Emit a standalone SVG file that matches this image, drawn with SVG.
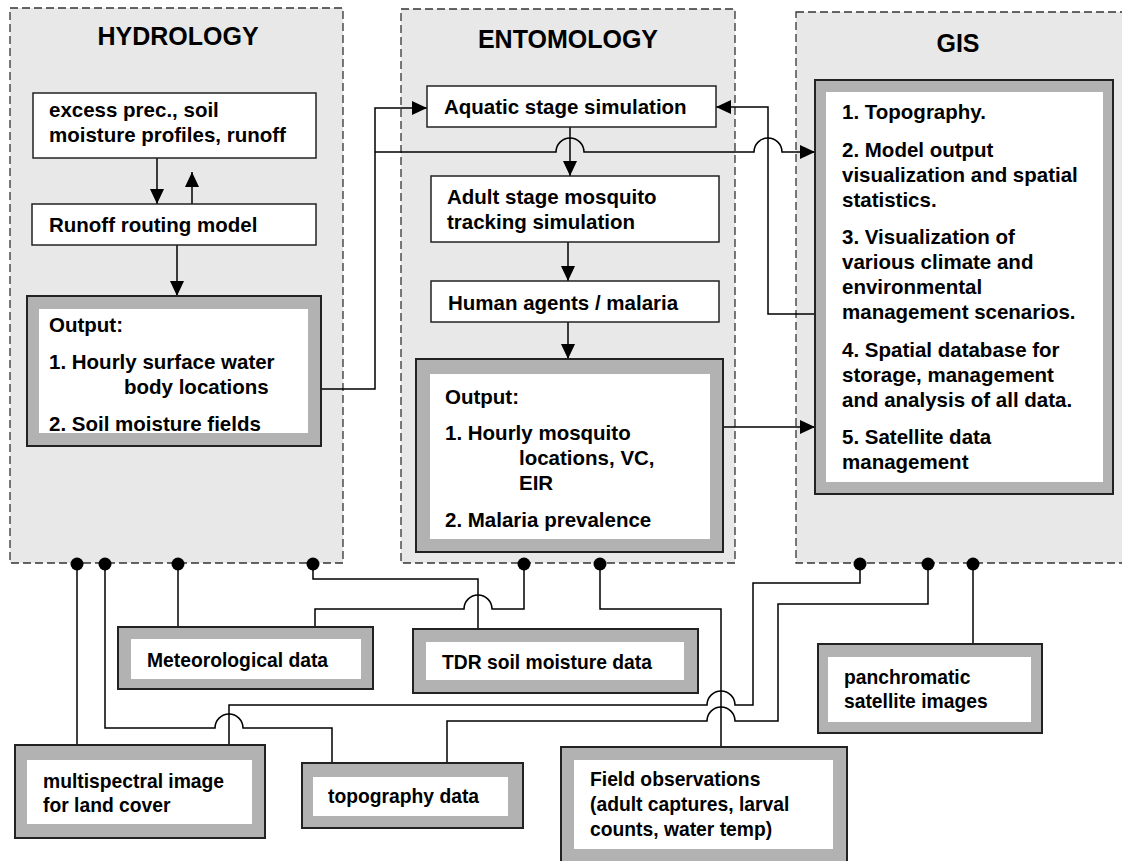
<svg xmlns="http://www.w3.org/2000/svg" width="1122" height="861" viewBox="0 0 1122 861">
<defs>
<marker id="arr" markerUnits="userSpaceOnUse" markerWidth="15" markerHeight="14" refX="15" refY="7" orient="auto">
<path d="M0,0 L15,7 L0,14 z" fill="#000"/>
</marker>
<style>
.panel{fill:#e8e8e8;stroke:#333;stroke-width:1.3;stroke-dasharray:8 4}
.box{fill:#fff;stroke:#222;stroke-width:1.5}
.frame{fill:#b2b2b2;stroke:#222;stroke-width:2}
.inner{fill:#fff}
.t{font-family:"Liberation Sans",Arial,sans-serif;font-weight:bold;font-size:20.5px;fill:#000}
.s{font-family:"Liberation Sans",Arial,sans-serif;font-weight:bold;font-size:19.3px;fill:#000}
.h{font-family:"Liberation Sans",Arial,sans-serif;font-weight:bold;font-size:25px;fill:#000;text-anchor:middle}
.c{fill:none;stroke:#000;stroke-width:1.5}
.dot{fill:#000}
</style>
</defs>
<rect width="1122" height="861" fill="#fff"/>

<g id="panel-hydrology">
<rect class="panel" x="10" y="8" width="333" height="555"/>
<text class="h" x="178" y="45">HYDROLOGY</text>
</g>
<g id="panel-entomology">
<rect class="panel" x="401" y="9" width="334" height="554"/>
<text class="h" x="568" y="48">ENTOMOLOGY</text>
</g>
<g id="panel-gis">
<rect class="panel" x="796" y="12" width="340" height="551"/>
<text class="h" x="958" y="52">GIS</text>
</g>

<g id="connectors">
<path class="c" d="M157,158 V204" marker-end="url(#arr)"/>
<path class="c" d="M192,204 V172" marker-end="url(#arr)"/>
<path class="c" d="M177,245 V296" marker-end="url(#arr)"/>
<path class="c" d="M321,389 H375 V108 H427" marker-end="url(#arr)"/>
<path class="c" d="M375,152 H556 A14,14 0 0 1 584,152 H754 A14,14 0 0 1 782,152 H815" marker-end="url(#arr)"/>
<path class="c" d="M570,127 V176" marker-end="url(#arr)"/>
<path class="c" d="M568,242 V281" marker-end="url(#arr)"/>
<path class="c" d="M568,322 V359" marker-end="url(#arr)"/>
<path class="c" d="M723,427 H815" marker-end="url(#arr)"/>
<path class="c" d="M815,314 H768 V107 H716" marker-end="url(#arr)"/>

<path class="c" d="M77,564 V745"/>
<path class="c" d="M105,564 V728 H215 A14,14 0 0 1 243,728 H332 V763"/>
<path class="c" d="M178,564 V627"/>
<path class="c" d="M313,564 V579 H478 V629"/>
<path class="c" d="M315,627 V609 H464 A14,14 0 0 1 492,609 H524 V564"/>
<path class="c" d="M600,564 V609 H721 V747"/>
<path class="c" d="M229,745 V705 H707 A14,14 0 0 1 735,705 H753 V583 H860 V564"/>
<path class="c" d="M447,763 V721 H707 A14,14 0 0 1 735,721 H778 V604 H928 V564"/>
<path class="c" d="M973,564 V644"/>

<circle class="dot" cx="77" cy="564" r="6.5"/>
<circle class="dot" cx="105" cy="564" r="6.5"/>
<circle class="dot" cx="178" cy="564" r="6.5"/>
<circle class="dot" cx="313" cy="564" r="6.5"/>
<circle class="dot" cx="524" cy="564" r="6.5"/>
<circle class="dot" cx="600" cy="564" r="6.5"/>
<circle class="dot" cx="860" cy="564" r="6.5"/>
<circle class="dot" cx="928" cy="564" r="6.5"/>
<circle class="dot" cx="973" cy="564" r="6.5"/>
</g>

<g id="excess">
<rect class="box" x="33" y="93" width="283" height="65"/>
<text class="t" x="49" y="117">excess prec., soil</text>
<text class="t" x="49" y="142">moisture profiles, runoff</text>
</g>
<g id="runoff">
<rect class="box" x="32" y="204" width="284" height="41"/>
<text class="t" x="49" y="232">Runoff routing model</text>
</g>
<g id="hydro-output">
<rect class="frame" x="27" y="296" width="294" height="150"/>
<rect class="inner" x="39" y="309" width="269" height="124"/>
<text class="t" x="49" y="332">Output:</text>
<text class="t" x="49" y="369">1. Hourly surface water</text>
<text class="t" x="124" y="394">body locations</text>
<text class="t" x="49" y="431">2. Soil moisture fields</text>
</g>

<g id="aquatic">
<rect class="box" x="427" y="86" width="289" height="41"/>
<text class="t" x="444" y="114">Aquatic stage simulation</text>
</g>
<g id="adult">
<rect class="box" x="431" y="176" width="288" height="66"/>
<text class="t" x="447" y="204">Adult stage mosquito</text>
<text class="t" x="447" y="229">tracking simulation</text>
</g>
<g id="human">
<rect class="box" x="431" y="281" width="288" height="41"/>
<text class="t" x="448" y="310">Human agents / malaria</text>
</g>
<g id="ento-output">
<rect class="frame" x="416" y="359" width="307" height="193"/>
<rect class="inner" x="430" y="374" width="280" height="165"/>
<text class="t" x="445" y="404">Output:</text>
<text class="t" x="445" y="440">1. Hourly mosquito</text>
<text class="t" x="519" y="465">locations, VC,</text>
<text class="t" x="519" y="490">EIR</text>
<text class="t" x="445" y="527">2. Malaria prevalence</text>
</g>

<g id="gis-box">
<rect class="frame" x="815" y="80" width="298" height="414"/>
<rect class="inner" x="826" y="92" width="277" height="390"/>
<text class="t" x="842" y="119">1. Topography.</text>
<text class="t" x="842" y="157">2. Model output</text>
<text class="t" x="842" y="182">visualization and spatial</text>
<text class="t" x="842" y="207">statistics.</text>
<text class="t" x="842" y="244">3. Visualization of</text>
<text class="t" x="842" y="269">various climate and</text>
<text class="t" x="842" y="294">environmental</text>
<text class="t" x="842" y="319">management scenarios.</text>
<text class="t" x="842" y="357">4. Spatial database for</text>
<text class="t" x="842" y="382">storage, management</text>
<text class="t" x="842" y="407">and analysis of all data.</text>
<text class="t" x="842" y="444">5. Satellite data</text>
<text class="t" x="842" y="469">management</text>
</g>

<g id="meteorological">
<rect class="frame" x="118" y="627" width="255" height="62"/>
<rect class="inner" x="131" y="639" width="230" height="40"/>
<text class="s" x="147" y="667">Meteorological data</text>
</g>
<g id="tdr">
<rect class="frame" x="413" y="629" width="285" height="64"/>
<rect class="inner" x="426" y="642" width="258" height="38"/>
<text class="s" x="442" y="669">TDR soil moisture data</text>
</g>
<g id="panchromatic">
<rect class="frame" x="818" y="644" width="224" height="89"/>
<rect class="inner" x="828" y="657" width="203" height="65"/>
<text class="s" x="844" y="684">panchromatic</text>
<text class="s" x="844" y="708">satellite images</text>
</g>
<g id="multispectral">
<rect class="frame" x="15" y="745" width="250" height="93"/>
<rect class="inner" x="27" y="760" width="225" height="64"/>
<text class="s" x="43" y="788">multispectral image</text>
<text class="s" x="43" y="812">for land cover</text>
</g>
<g id="topography">
<rect class="frame" x="302" y="763" width="221" height="65"/>
<rect class="inner" x="313" y="777" width="195" height="39"/>
<text class="s" x="328" y="803">topography data</text>
</g>
<g id="field">
<rect class="frame" x="561" y="747" width="286" height="125"/>
<rect class="inner" x="574" y="760" width="259" height="89"/>
<text class="s" x="590" y="786">Field observations</text>
<text class="s" x="590" y="811">(adult captures, larval</text>
<text class="s" x="590" y="836">counts, water temp)</text>
</g>
</svg>
